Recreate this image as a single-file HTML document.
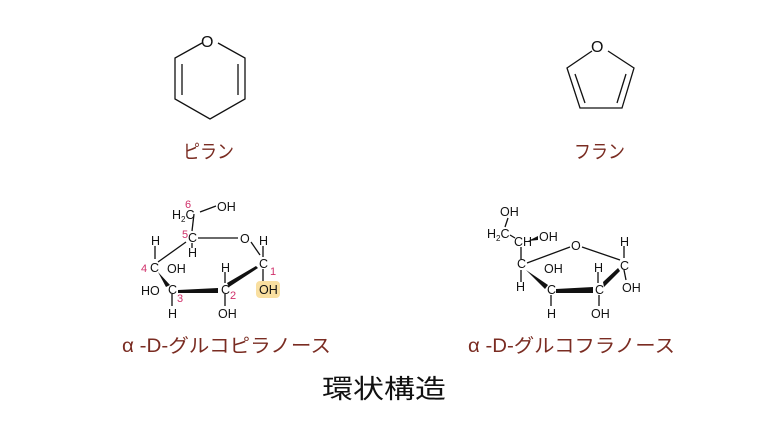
<!DOCTYPE html>
<html><head><meta charset="utf-8"><style>
html,body{margin:0;padding:0;background:#fff;width:768px;height:432px;overflow:hidden}
svg{display:block}
.a{font-family:"Liberation Sans",sans-serif;font-size:12.5px;fill:#111}
.n{font-family:"Liberation Sans",sans-serif;font-size:11px;fill:#d0306a}
.j{font-family:"Liberation Sans","Noto Sans CJK JP",sans-serif;fill:#7a2c22}
</style></head><body>
<svg width="768" height="432" viewBox="0 0 768 432" xmlns="http://www.w3.org/2000/svg">
<g stroke="#111" stroke-width="1.3" fill="none">
<polyline points="202,43 175,58 175,99 210,119 245,99 245,58 218,43"/>
<line x1="182" y1="64" x2="182" y2="95"/>
<line x1="238" y1="64" x2="238" y2="95"/>
<polyline points="592,51 567,68 580,108 622,108 634,68 608,51"/>
<line x1="575" y1="74" x2="585" y2="103"/>
<line x1="626" y1="74" x2="617" y2="103"/>
<line x1="194" y1="214" x2="192" y2="231"/>
<line x1="200" y1="212" x2="216" y2="206"/>
<line x1="198" y1="238" x2="238" y2="238"/>
<line x1="251" y1="242" x2="260" y2="255"/>
<line x1="186" y1="242" x2="158" y2="262"/>
<line x1="155" y1="246" x2="155" y2="259"/>
<line x1="192" y1="243" x2="192" y2="248"/>
<line x1="263" y1="246" x2="263" y2="257"/>
<line x1="263" y1="269" x2="263" y2="282"/>
<line x1="172" y1="294" x2="172" y2="306"/>
<line x1="225" y1="294" x2="225" y2="306"/>
<line x1="225" y1="272" x2="225" y2="283"/>
<line x1="508" y1="218" x2="505" y2="227"/>
<line x1="510" y1="235" x2="515" y2="238"/>
<line x1="521" y1="247" x2="521" y2="259"/>
<line x1="521" y1="270" x2="521" y2="282"/>
<line x1="527" y1="263" x2="570" y2="247"/>
<line x1="582" y1="247" x2="620" y2="260"/>
<line x1="624" y1="246" x2="624" y2="258"/>
<line x1="624" y1="270" x2="626" y2="280"/>
<line x1="551" y1="295" x2="551" y2="306"/>
<line x1="599" y1="295" x2="599" y2="306"/>
<line x1="598" y1="272" x2="598" y2="283"/>
</g>
<g fill="#111">
<polygon points="178,290 218,288 218,293 178,293"/>
<polygon points="158,272 170,285 166,287"/>
<polygon points="229,287 258,268 256,266 227,283"/>
<polygon points="556,289 593,287 593,293 556,293"/>
<polygon points="526,270 548,285 545,289"/>
<polygon points="604,287 620,271 618,268 603,282"/>
<polygon points="528,241 538,236 538,240"/>
</g>
<rect x="256" y="281" width="24" height="17" rx="4" fill="#f9dfa0"/>
<g class="a">
<text x="201" y="47" font-size="16">O</text>
<text x="591" y="52" font-size="16">O</text>
<text x="172" y="219">H<tspan font-size="8" dy="3">2</tspan><tspan dy="-3">C</tspan></text>
<text x="217" y="211">OH</text>
<text x="188" y="242">C</text>
<text x="188" y="257">H</text>
<text x="240" y="243">O</text>
<text x="259" y="245">H</text>
<text x="259" y="268">C</text>
<text x="259" y="294">OH</text>
<text x="151" y="245">H</text>
<text x="150" y="272">C</text>
<text x="167" y="273">OH</text>
<text x="141" y="295">HO</text>
<text x="168" y="294">C</text>
<text x="168" y="318">H</text>
<text x="221" y="272">H</text>
<text x="221" y="294">C</text>
<text x="218" y="318">OH</text>
<text x="500" y="216">OH</text>
<text x="487" y="238">H<tspan font-size="8" dy="3">2</tspan><tspan dy="-3">C</tspan></text>
<text x="514" y="246">CH</text>
<text x="539" y="241">OH</text>
<text x="517" y="268">C</text>
<text x="516" y="291">H</text>
<text x="571" y="250">O</text>
<text x="620" y="246">H</text>
<text x="620" y="270">C</text>
<text x="622" y="292">OH</text>
<text x="544" y="273">OH</text>
<text x="547" y="294">C</text>
<text x="547" y="318">H</text>
<text x="594" y="272">H</text>
<text x="595" y="294">C</text>
<text x="591" y="318">OH</text>
</g>
<g class="n">
<text x="185" y="208">6</text>
<text x="182" y="238">5</text>
<text x="141" y="272">4</text>
<text x="177" y="302">3</text>
<text x="230" y="299">2</text>
<text x="270" y="275">1</text>
</g>
<text class="j" x="183" y="158" font-size="19" textLength="51" lengthAdjust="spacingAndGlyphs">ピラン</text>
<text class="j" x="574" y="158" font-size="19" textLength="51" lengthAdjust="spacingAndGlyphs">フラン</text>
<text class="j" x="122" y="352" font-size="19" textLength="209" lengthAdjust="spacingAndGlyphs">α -D-グルコピラノース</text>
<text class="j" x="468" y="352" font-size="19" textLength="207" lengthAdjust="spacingAndGlyphs">α -D-グルコフラノース</text>
<text x="322" y="398" font-size="26" fill="#111" font-family="'Liberation Sans','Noto Sans CJK JP',sans-serif" textLength="124" lengthAdjust="spacingAndGlyphs">環状構造</text>
</svg>
</body></html>
